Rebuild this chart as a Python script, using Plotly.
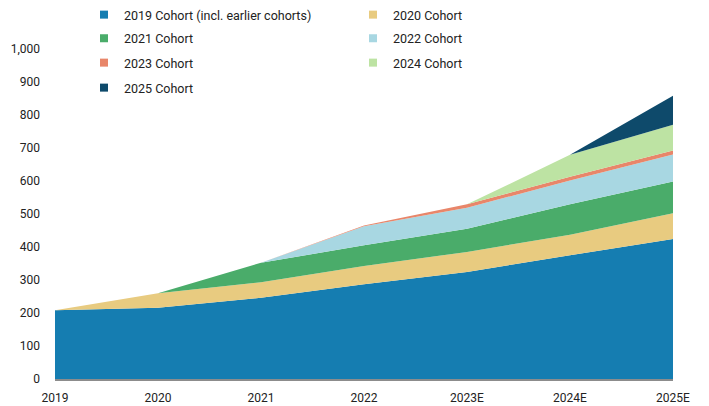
import plotly.graph_objects as go

years = ["2019", "2020", "2021", "2022", "2023E", "2024E", "2025E"]
series_names = [
    "2019 Cohort (incl. earlier cohorts)", "2020 Cohort", "2021 Cohort",
    "2022 Cohort", "2023 Cohort", "2024 Cohort", "2025 Cohort",
]
c2019 = [208, 216, 246, 287, 324, 375, 424]
c2020 = [0, 44, 47, 55, 61, 62, 78]
c2021 = [0, 0, 59, 63, 70, 92, 96]
c2022 = [0, 0, 0, 58, 64, 72, 82]
c2023 = [0, 0, 0, 2, 10, 12, 12]
c2024 = [0, 0, 0, 0, 0, 66, 78]
c2025 = [0, 0, 0, 0, 0, 0, 88]
y_ticks = [0, 100, 200, 300, 400, 500, 600, 700, 800, 900, 1000]

colors = ["#157db1", "#e8cb80", "#4aac6a", "#a8d7e2", "#e8866a", "#bde3a3", "#0e4a6b"]
values = [c2019, c2020, c2021, c2022, c2023, c2024, c2025]

W, H = 709, 406
M_L, M_R, M_T, M_B = 55, 36, 0, 27
plot_bottom = H - M_B          # 379 px
plot_h = plot_bottom - M_T
px_per_100 = 33.1              # vertical scale of the reference axis
y_max = 100 * plot_h / px_per_100

fig = go.Figure()
for name, vals, col in zip(series_names, values, colors):
    fig.add_trace(go.Scatter(
        x=years, y=vals, name=name, stackgroup="one", mode="none",
        fillcolor=col, showlegend=False, hoverinfo="skip",
    ))

legend_ids = ["legend", "legend", "legend2", "legend2", "legend3", "legend3", "legend4"]
for name, col, lg in zip(series_names, colors, legend_ids):
    fig.add_trace(go.Scatter(
        x=[None], y=[None], name=name, mode="markers", legend=lg,
        marker=dict(symbol="square", size=8, color=col), showlegend=True,
    ))

plot_w = W - M_L - M_R
row_px = [14, 38.5, 63, 88]
leg_common = dict(
    orientation="h",
    x=(84 - M_L) / plot_w, xanchor="left", yanchor="middle",
    entrywidth=224, entrywidthmode="pixels", itemwidth=30,
    font=dict(size=12.5, color="#222222"), bgcolor="rgba(0,0,0,0)",
    traceorder="normal",
)
legends = {}
for i, key in enumerate(["legend", "legend2", "legend3", "legend4"]):
    legends[key] = dict(leg_common, y=(plot_bottom - row_px[i]) / plot_h)

fig.update_layout(
    width=W, height=H,
    margin=dict(l=M_L, r=M_R, t=M_T, b=M_B),
    paper_bgcolor="white", plot_bgcolor="white",
    font=dict(family="Roboto", size=12, color="#222222"),
    xaxis=dict(
        type="category", range=[0, 6], showgrid=False, ticks="",
        showline=True, linecolor="#8c8c8c", linewidth=2,
        tickfont=dict(size=12), zeroline=False, ticklabelstandoff=7,
    ),
    yaxis=dict(
        range=[0, y_max], tickvals=y_ticks, tickformat=",d", showgrid=False,
        showline=False, zeroline=False, ticks="", tickfont=dict(size=12),
        ticklabelstandoff=14,
    ),
    **legends,
)

fig.write_html("out.html")
